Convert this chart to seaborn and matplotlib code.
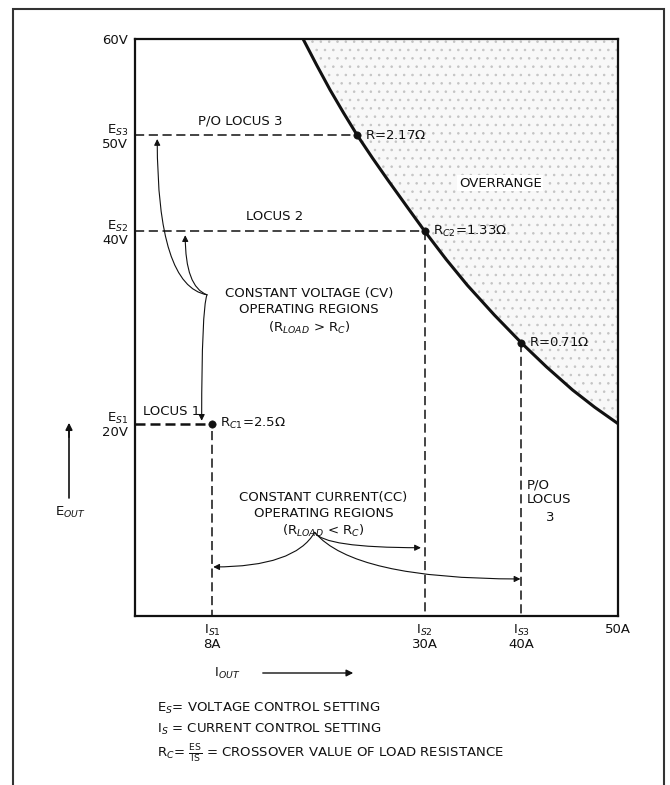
import numpy as np
import pandas as pd
import matplotlib
matplotlib.use("Agg")
import matplotlib.pyplot as plt
from matplotlib.patches import Rectangle
import seaborn as sns

# Boundary of the operating area (I_out in A, E_out in V)
curve_amps = [17.4, 18.8, 20.2, 21.6, 23.0, 24.6, 26.2, 28.2, 30.0, 32.2,
              34.4, 37.2, 40.0, 42.6, 45.3, 47.6, 50.0]
curve_volts = [60, 57.3, 54.7, 52.3, 50, 47.6, 45.3, 42.5, 40, 37.1,
               34.4, 31.3, 28.4, 25.9, 23.5, 21.7, 20.0]

# Crossover points
cross_amps = [8, 23, 30, 40]
cross_volts = [20, 50, 40, 28.4]
cross_labels = [r"R$_{C1}$=2.5$\Omega$", r"R=2.17$\Omega$",
                r"R$_{C2}$=1.33$\Omega$", r"R=0.71$\Omega$"]

# Axis settings
volt_ticks = [20, 40, 50, 60]
volt_labels = ["E$_{S1}$\n20V", "E$_{S2}$\n40V", "E$_{S3}$\n50V", "60V"]
amp_ticks = [8, 30, 40, 50]
amp_labels = ["I$_{S1}$\n8A", "I$_{S2}$\n30A", "I$_{S3}$\n40A", "50A"]

sns.set_theme(style="white")
plt.rcParams['font.family'] = ['DejaVu Sans']
plt.rcParams['mathtext.fontset'] = 'dejavusans'
plt.rcParams['hatch.linewidth'] = 0.6

ink = '#111111'
fig = plt.figure(figsize=(6.7, 7.85), dpi=100)
ax = fig.add_axes([135 / 670, 1 - 616 / 785, 483 / 670, 577 / 785])

df = pd.DataFrame({'I': curve_amps, 'E': curve_volts})

# overrange area (stippled)
ax.fill_betweenx(df['E'], df['I'], 50, facecolor='#f8f8f8', edgecolor='#c4c4c4',
                 hatch='..', lw=0)
sns.lineplot(data=df, x='I', y='E', ax=ax, color=ink, lw=2.2, sort=False)

# loci (dashed)
dash = dict(color=ink, lw=1.1, dashes=(6, 3))
ax.plot([0, cross_amps[1]], [cross_volts[1], cross_volts[1]], **dash)
ax.plot([0, cross_amps[2]], [cross_volts[2], cross_volts[2]], **dash)
ax.plot([cross_amps[2], cross_amps[2]], [cross_volts[2], 0], **dash)
ax.plot([cross_amps[3], cross_amps[3]], [cross_volts[3], 0], **dash)
ax.plot([0, cross_amps[0]], [cross_volts[0], cross_volts[0]], color=ink, lw=1.8, dashes=(4, 2))
ax.plot([cross_amps[0], cross_amps[0]], [cross_volts[0] - 0.8, 0], **dash)

sns.scatterplot(x=cross_amps, y=cross_volts, ax=ax, color=ink, s=28, zorder=5, edgecolor=ink)
for a, v, lab in zip(cross_amps, cross_volts, cross_labels):
    ax.text(a + 0.8, v, lab, fontsize=9.5, va='center', ha='left', color=ink)

ax.text(10.9, 50.8, "P/O LOCUS 3", fontsize=9.5, ha='center', va='bottom', color=ink)
ax.text(14.5, 40.9, "LOCUS 2", fontsize=9.5, ha='center', va='bottom', color=ink)
ax.text(0.8, 20.6, "LOCUS 1", fontsize=9.5, ha='left', va='bottom', color=ink)
ax.text(37.8, 45.0, "OVERRANGE", fontsize=9.5, ha='center', va='center', color=ink,
        bbox=dict(fc='white', ec='none', pad=1))
ax.text(18.0, 31.7, "CONSTANT VOLTAGE (CV)\nOPERATING REGIONS\n(R$_{LOAD}$ > R$_C$)",
        fontsize=9.5, ha='center', va='center', color=ink, linespacing=1.3)
ax.text(19.5, 10.5, "CONSTANT CURRENT(CC)\nOPERATING REGIONS\n(R$_{LOAD}$ < R$_C$)",
        fontsize=9.5, ha='center', va='center', color=ink, linespacing=1.3)
ax.text(40.6, 14.3, "P/O\nLOCUS", fontsize=9.5, ha='left', va='top', color=ink,
        linespacing=1.2)
ax.text(43.0, 10.2, "3", fontsize=9.5, ha='center', va='center', color=ink)

# pointer arrows
cv_from = (7.45, 33.4)
cc_from = (18.6, 8.7)
arrow = dict(arrowstyle='-|>', color=ink, lw=0.8, mutation_scale=9, shrinkA=0, shrinkB=0)
ax.annotate("", xy=(2.3, 49.6), xytext=cv_from,
            arrowprops=dict(connectionstyle='angle3,angleA=170,angleB=90', **arrow))
ax.annotate("", xy=(5.2, 39.6), xytext=cv_from,
            arrowprops=dict(connectionstyle='angle3,angleA=160,angleB=90', **arrow))
ax.annotate("", xy=(6.9, 20.3), xytext=cv_from,
            arrowprops=dict(connectionstyle='angle3,angleA=-110,angleB=90', **arrow))
ax.annotate("", xy=(8.1, 5.1), xytext=cc_from,
            arrowprops=dict(connectionstyle='angle3,angleA=-120,angleB=0', **arrow))
ax.annotate("", xy=(29.6, 7.1), xytext=cc_from,
            arrowprops=dict(connectionstyle='angle3,angleA=-60,angleB=0', **arrow))
ax.annotate("", xy=(39.9, 3.85), xytext=cc_from,
            arrowprops=dict(connectionstyle='angle3,angleA=-50,angleB=0', **arrow))

ax.set_xlim(0, 50)
ax.set_ylim(0, 60)
ax.set_xticks(amp_ticks)
ax.set_xticklabels(amp_labels, fontsize=9.5, color=ink, linespacing=1.0)
ax.set_yticks(volt_ticks)
ax.set_yticklabels(volt_labels, fontsize=9.5, color=ink, linespacing=1.0)
ax.tick_params(length=0, pad=5)
ax.set_xlabel("")
ax.set_ylabel("")
for sp in ax.spines.values():
    sp.set_color(ink)
    sp.set_linewidth(1.6)

# axis captions and notes outside the plot
fig.text(70 / 670, 1 - 512 / 785, "E$_{OUT}$", fontsize=9.5, ha='center', va='center', color=ink)
fig.add_artist(plt.Line2D([69 / 670, 69 / 670], [1 - 498 / 785, 1 - 428 / 785], color=ink, lw=1.2))
ax.annotate("", xy=(69 / 670, 1 - 420 / 785), xytext=(69 / 670, 1 - 440 / 785),
            xycoords='figure fraction', textcoords='figure fraction',
            arrowprops=dict(arrowstyle='-|>', color=ink, lw=1.2, mutation_scale=10))
fig.text(227 / 670, 1 - 673 / 785, "I$_{OUT}$", fontsize=9.5, ha='center', va='center', color=ink)
ax.annotate("", xy=(356 / 670, 1 - 673 / 785), xytext=(260 / 670, 1 - 673 / 785),
            xycoords='figure fraction', textcoords='figure fraction',
            arrowprops=dict(arrowstyle='-|>', color=ink, lw=1.0, mutation_scale=10))

fig.text(157 / 670, 1 - 708 / 785, "E$_S$= VOLTAGE CONTROL SETTING", fontsize=9.5,
         ha='left', va='center', color=ink)
fig.text(157 / 670, 1 - 729 / 785, "I$_S$ = CURRENT CONTROL SETTING", fontsize=9.5,
         ha='left', va='center', color=ink)
fig.text(157 / 670, 1 - 754 / 785, r"R$_C$= $\frac{\mathrm{ES}}{\mathrm{IS}}$ = CROSSOVER VALUE OF LOAD RESISTANCE",
         fontsize=9.5, ha='left', va='center', color=ink)

# outer frame
fig.add_artist(Rectangle((13 / 670, -0.02), 651 / 670, 1.02 - 9 / 785, transform=fig.transFigure,
                         fill=False, lw=1.5, ec='#333333'))

fig.savefig("out.png", dpi=100)
